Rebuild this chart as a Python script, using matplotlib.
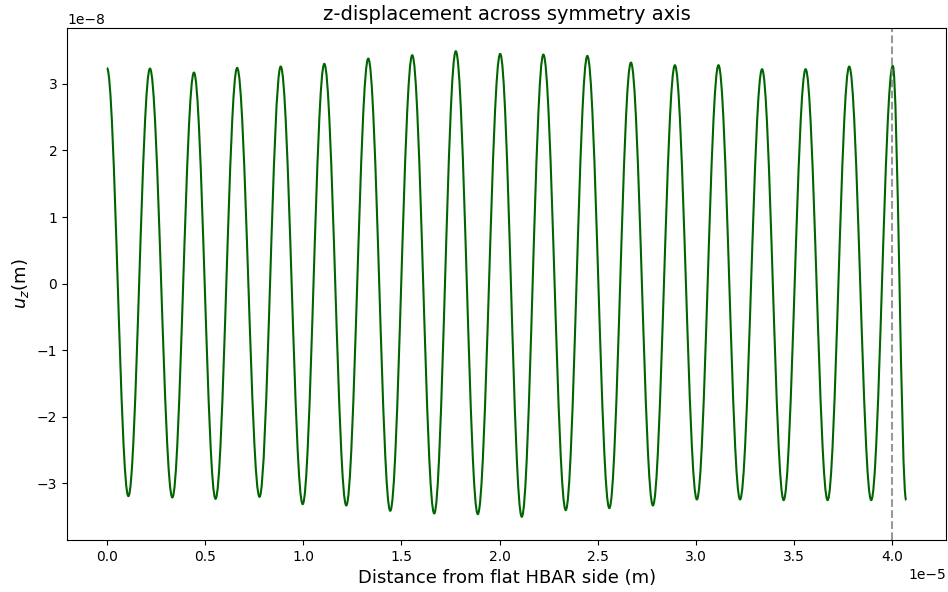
import numpy as np
import matplotlib
matplotlib.use("Agg")
import matplotlib.pyplot as plt
from matplotlib.path import Path
from matplotlib.patches import PathPatch

# extrema, x in 1e-5 m, u_z in 1e-8 m
peak_x = [0.0, 0.219, 0.443, 0.663, 0.885, 1.107, 1.331, 1.555, 1.777, 2.003,
          2.223, 2.447, 2.669, 2.893, 3.115, 3.337, 3.559, 3.781, 4.003]
peak_y = [3.24, 3.23, 3.17, 3.24, 3.26, 3.30, 3.38, 3.43, 3.49, 3.45,
          3.44, 3.42, 3.32, 3.28, 3.28, 3.22, 3.22, 3.26, 3.27]
trough_x = [0.109, 0.333, 0.553, 0.777, 0.997, 1.219, 1.443, 1.667, 1.889,
            2.113, 2.337, 2.559, 2.781, 3.005, 3.225, 3.447, 3.671, 3.893]
trough_y = [-3.19, -3.21, -3.23, -3.20, -3.31, -3.33, -3.41, -3.45, -3.46,
            -3.50, -3.40, -3.37, -3.33, -3.24, -3.24, -3.25, -3.25, -3.25]
end_x = 4.071
end_y = -3.25

hbar_edge = 4.0  # 1e-5 m


def extrema_path(xs, ys, k=0.364):
    # cubic bezier between neighbouring extrema, flat tangents at each one
    verts = [(xs[0], ys[0])]
    codes = [Path.MOVETO]
    for i in range(len(xs) - 1):
        dx = xs[i + 1] - xs[i]
        verts += [(xs[i] + k * dx, ys[i]),
                  (xs[i + 1] - k * dx, ys[i + 1]),
                  (xs[i + 1], ys[i + 1])]
        codes += [Path.CURVE4] * 3
    return Path(verts, codes)


xs, ys = [], []
for i in range(len(peak_x)):
    xs.append(peak_x[i] * 1e-5)
    ys.append(peak_y[i] * 1e-8)
    if i < len(trough_x):
        xs.append(trough_x[i] * 1e-5)
        ys.append(trough_y[i] * 1e-8)
xs.append(end_x * 1e-5)
ys.append(end_y * 1e-8)

fig, ax = plt.subplots(figsize=(9.48, 5.92), dpi=100)
fig.subplots_adjust(left=0.0707, right=0.998, top=0.9527, bottom=0.0878)

curve = PathPatch(extrema_path(xs, ys), facecolor="none",
                  edgecolor="darkgreen", lw=1.5)
ax.add_patch(curve)
ax.autoscale_view()

ax.axvline(hbar_edge * 1e-5, color="grey", linestyle="--", lw=1.5, alpha=0.8)

ax.set_title("z-displacement across symmetry axis", fontsize=14)
ax.set_xlabel("Distance from flat HBAR side (m)", fontsize=13)
ax.set_ylabel("$u_z$(m)", fontsize=13)

plt.savefig("out.png")
plt.close()
